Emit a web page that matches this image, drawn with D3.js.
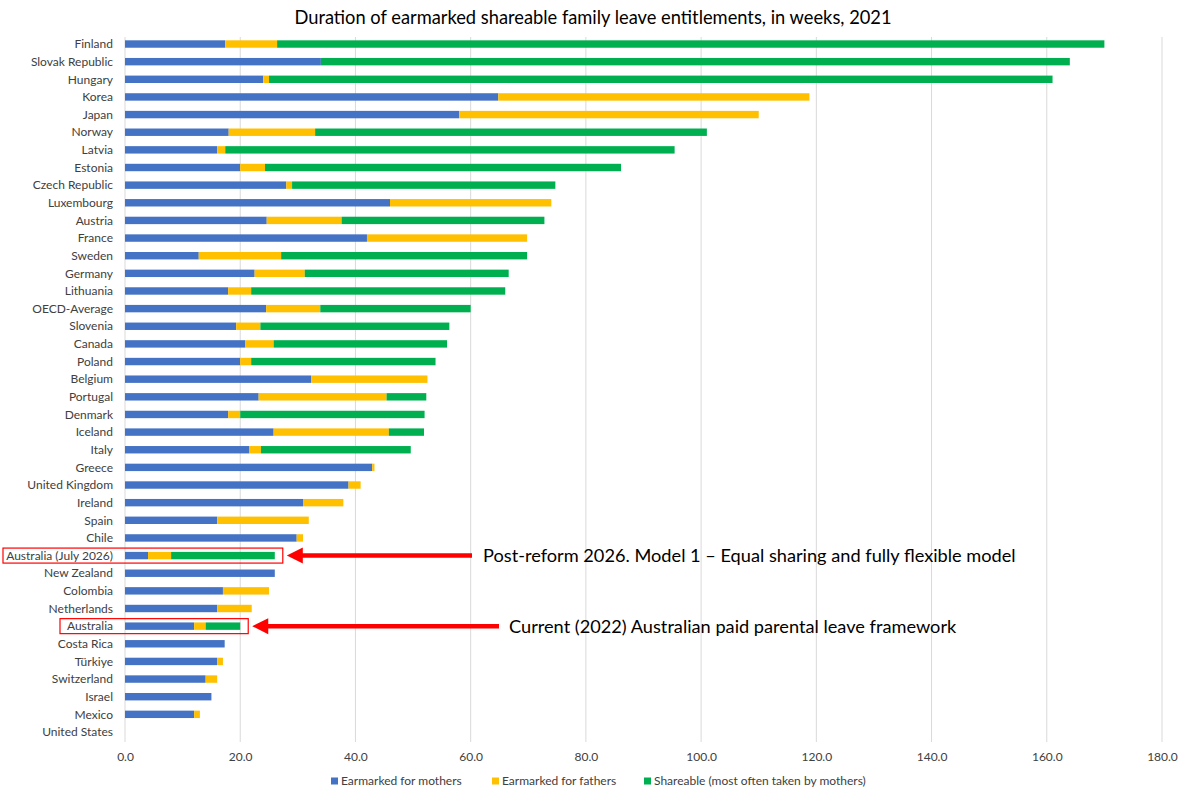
<!DOCTYPE html>
<html><head><meta charset="utf-8">
<script src="https://cdn.jsdelivr.net/npm/d3@7"></script>
<style>body{margin:0;background:#fff;} svg{display:block;font-family:Lato,"Noto Sans",sans-serif;}</style>
</head><body>
<svg id="c" width="1180" height="792"></svg>
<script>
const categories = ["Finland","Slovak Republic","Hungary","Korea","Japan","Norway","Latvia","Estonia","Czech Republic","Luxembourg","Austria","France","Sweden","Germany","Lithuania","OECD-Average","Slovenia","Canada","Poland","Belgium","Portugal","Denmark","Iceland","Italy","Greece","United Kingdom","Ireland","Spain","Chile","Australia (July 2026)","New Zealand","Colombia","Netherlands","Australia","Costa Rica","Türkiye","Switzerland","Israel","Mexico","United States"];
const mothers = [17.4,34,24,64.8,58,18,16,20,28,46,24.6,42,12.8,22.5,17.9,24.5,19.3,20.9,20,32.3,23.2,17.9,25.8,21.6,42.9,38.8,30.9,16,29.8,4,26,17,16,12,17.3,16,14,15,12,0];
const fathers = [9,0,1,54,52,15,1.4,4.3,1,28,13,27.8,14.3,8.7,4,9.4,4.2,4.9,1.9,20.2,22.2,2.1,20,2,0.4,2.1,7,15.9,1.1,4,0,8,6,2,0,1,2,0,1,0];
const shareable = [143.6,130,136,0,0,68,78,61.8,45.7,0,35.2,0,42.7,35.4,44.1,26.1,32.8,30.1,32,0,6.9,32,6.1,26,0,0,0,0,0,18,0,0,0,6,0,0,0,0,0,0];
const xTicks = [0,20,40,60,80,100,120,140,160,180];
const seriesNames = ["Earmarked for mothers","Earmarked for fathers","Shareable (most often taken by mothers)"];
const seriesColors = ["#4472C4","#FFC000","#00B050"];
const title = "Duration of earmarked shareable family leave entitlements, in weeks, 2021";
const notes = [
  {cat:"Australia (July 2026)", text:"Post-reform 2026. Model 1 – Equal sharing and fully flexible model", boxLeft:3, tail:472, textX:483},
  {cat:"Australia", text:"Current (2022) Australian paid parental leave framework", boxLeft:60, tail:499, textX:509}
];

const svg = d3.select("#c");
const x = d3.scaleLinear().domain([0,180]).range([125,1162]);
const y = d3.scaleBand().domain(categories).range([35.2,740.8]).paddingInner(0.58).paddingOuter(0.29);

const rows = categories.map((c,i)=>({cat:c, mothers:mothers[i], fathers:fathers[i], shareable:shareable[i]}));
const stack = d3.stack().keys(["mothers","fathers","shareable"])(rows);

// gridlines
svg.append("g").selectAll("line").data(xTicks).join("line")
  .attr("x1",d=>x(d)).attr("x2",d=>x(d)).attr("y1",37).attr("y2",742)
  .attr("stroke","#d9d9d9").attr("stroke-width",1);

// bars
svg.append("g").selectAll("g").data(stack).join("g")
  .attr("fill",(d,i)=>seriesColors[i])
  .selectAll("rect").data(d=>d.filter(v=>v[1]-v[0]>0)).join("rect")
  .attr("x",d=>x(d[0])).attr("width",d=>x(d[1])-x(d[0]))
  .attr("y",d=>y(d.data.cat)).attr("height",y.bandwidth());

// x axis labels
const xa = svg.append("g").attr("transform","translate(0,742)")
  .call(d3.axisBottom(x).tickValues(xTicks).tickFormat(d3.format(".1f")).tickSize(0).tickPadding(10));
xa.select(".domain").remove();
xa.selectAll("text").attr("font-size",12).attr("fill","#404040").attr("font-family","Lato,sans-serif");

// category labels
svg.append("g").selectAll("text").data(categories).join("text")
  .attr("x",113).attr("y",d=>y(d)+y.bandwidth()/2).attr("dy","0.35em")
  .attr("text-anchor","end").attr("font-size",12).attr("fill","#404040").text(d=>d);

// title
svg.append("text").attr("x",593).attr("y",24).attr("text-anchor","middle")
  .attr("font-size",18.3).attr("fill","#000").text(title);

// annotations
const ann = svg.append("g");
notes.forEach(n=>{
  const cy = y(n.cat)+y.bandwidth()/2;
  const idx = categories.indexOf(n.cat);
  const total = mothers[idx]+fathers[idx]+shareable[idx];
  const boxRight = x(total)+8;
  ann.append("rect").attr("x",n.boxLeft).attr("y",cy-7.5).attr("width",boxRight-n.boxLeft).attr("height",15)
    .attr("fill","none").attr("stroke","#ff0000").attr("stroke-width",1.2);
  const tip = boxRight+4;
  ann.append("line").attr("x1",tip+14).attr("x2",n.tail).attr("y1",cy).attr("y2",cy)
    .attr("stroke","#ff0000").attr("stroke-width",4.5);
  ann.append("path").attr("d",`M${tip},${cy}L${tip+16},${cy-8}L${tip+16},${cy+8}Z`).attr("fill","#ff0000");
  ann.append("text").attr("x",n.textX).attr("y",cy).attr("dy","0.35em").attr("font-size",18.2)
    .attr("fill","#000").text(n.text);
});

// legend
const lg = svg.append("g");
const lx = [331,492,644];
seriesNames.forEach((s,i)=>{
  lg.append("rect").attr("x",lx[i]).attr("y",777.5).attr("width",7).attr("height",7).attr("fill",seriesColors[i]);
  lg.append("text").attr("x",lx[i]+10).attr("y",781).attr("dy","0.35em").attr("font-size",12).attr("fill","#404040").text(s);
});
</script>
</body></html>
